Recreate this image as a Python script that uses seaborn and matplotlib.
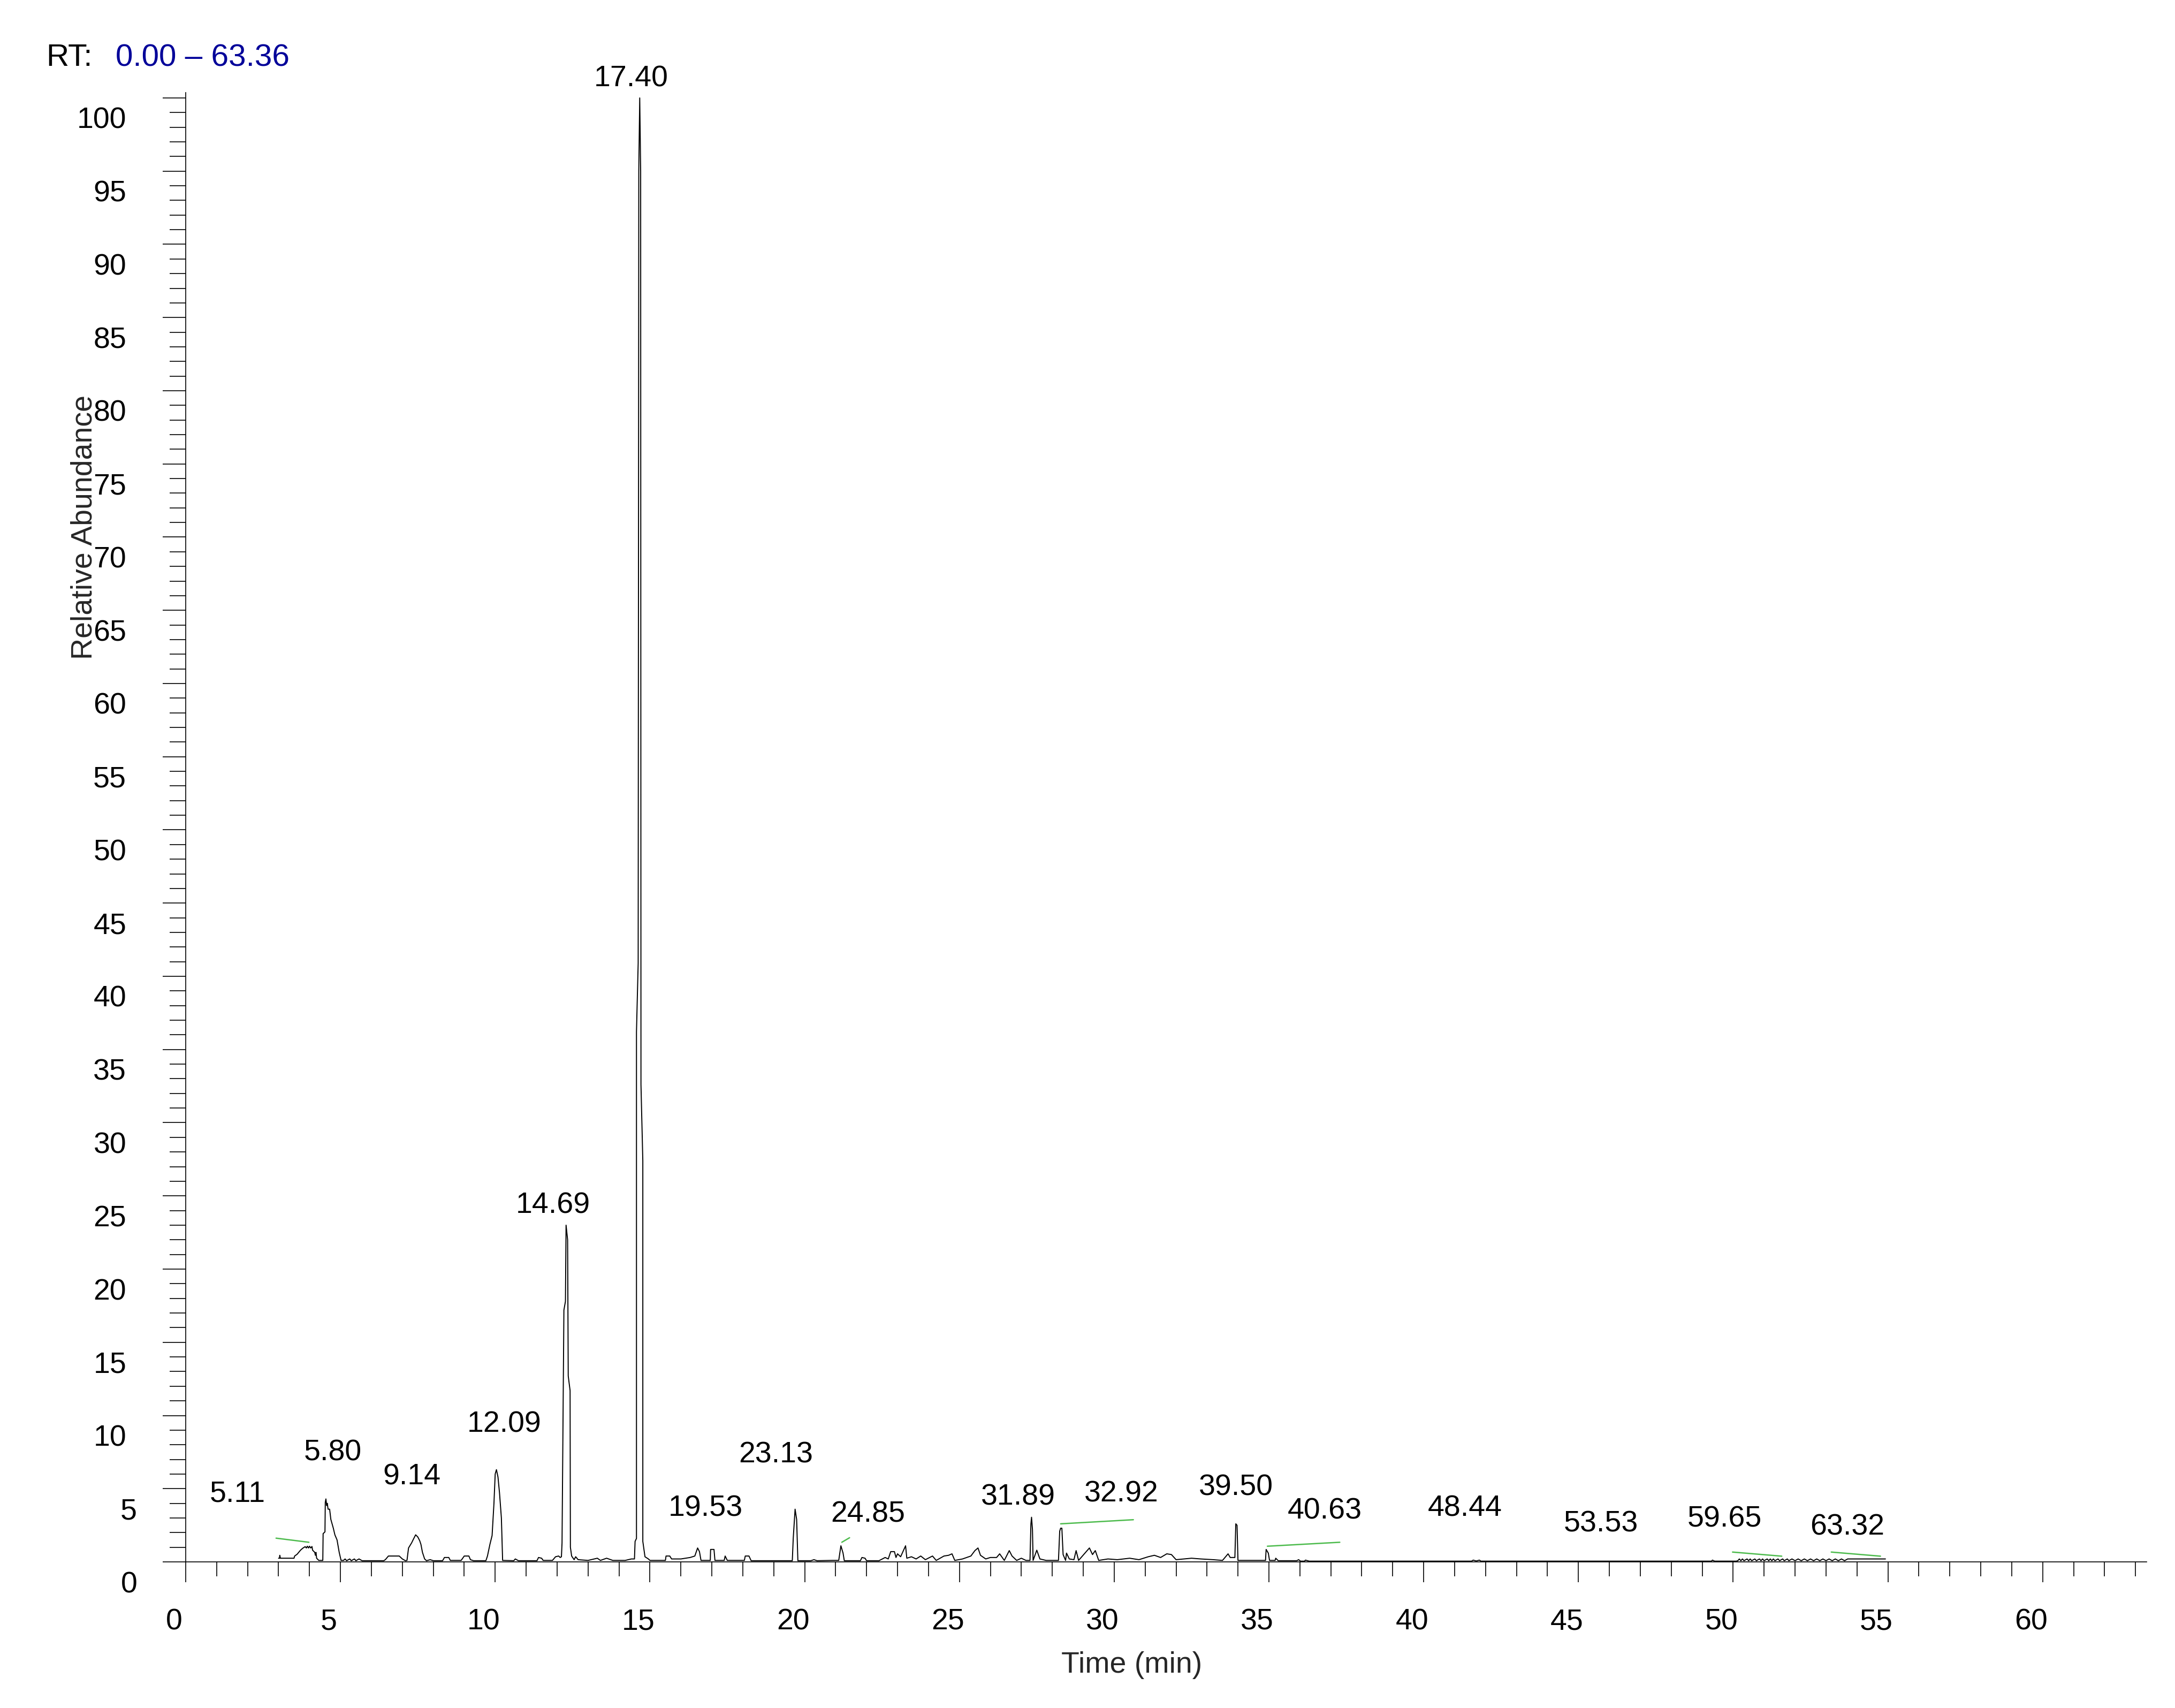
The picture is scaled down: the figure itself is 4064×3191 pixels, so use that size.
import pandas as pd
import seaborn as sns
import matplotlib.pyplot as plt
import matplotlib.transforms as mtransforms
from matplotlib.ticker import MultipleLocator

# ---------------------------------------------------------
# 1. DATA
# ---------------------------------------------------------
# trace: retention time on the plotted axis (min) and relative abundance (%)
time_min = [
    3.00, 3.03, 3.04, 3.06, 3.50, 3.52, 3.60, 3.65, 3.71, 3.78, 3.86, 3.90, 3.93, 3.97,
    4.00, 4.04, 4.08, 4.10, 4.17, 4.19, 4.21, 4.23, 4.30, 4.43, 4.44, 4.50, 4.51, 4.53,
    4.555, 4.575, 4.60, 4.65, 4.69, 4.77, 4.82, 4.89, 4.96, 5.02,
    5.10, 5.15, 5.20, 5.30, 5.35, 5.45, 5.50, 5.60, 5.70, 6.40,
    6.45, 6.55, 6.90, 7.00, 7.10, 7.15, 7.20, 7.30, 7.36, 7.43, 7.50, 7.56, 7.60, 7.65,
    7.72, 7.78, 7.90, 8.00, 8.30, 8.36, 8.50, 8.55, 8.90, 9.00, 9.15, 9.20, 9.30, 9.70,
    9.75, 9.83, 9.90, 9.96, 10.00, 10.04, 10.09, 10.14, 10.20, 10.24, 10.60, 10.65, 10.75,
    11.35, 11.40, 11.50, 11.55, 11.85, 11.95, 12.05, 12.10, 12.14, 12.16, 12.22, 12.27,
    12.29, 12.34, 12.36, 12.42, 12.43, 12.47, 12.55, 12.60, 12.68, 13.00, 13.30, 13.40,
    13.60, 13.80, 14.20, 14.40, 14.50, 14.52, 14.565, 14.565, 14.62, 14.64, 14.67, 14.70,
    14.71, 14.77, 14.77, 14.84, 14.95, 15.00, 15.50, 15.52, 15.64, 15.70, 16.00, 16.30,
    16.45, 16.54, 16.60, 16.65, 16.95, 16.96, 17.07, 17.10, 17.40, 17.43, 17.50, 18.05,
    18.08, 18.20, 18.27, 19.60, 19.63, 19.69, 19.74, 19.78, 20.20, 20.30, 20.40, 20.90,
    21.10, 21.17, 21.24, 21.28, 21.80, 21.85, 21.95, 22.00, 22.40, 22.60, 22.70, 22.78,
    22.90, 22.95, 23.00, 23.10, 23.26, 23.30, 23.45, 23.60, 23.75, 23.90, 24.13, 24.25,
    24.50, 24.65, 24.76, 24.85, 25.10, 25.37, 25.50, 25.60, 25.68, 25.85, 26.00, 26.20,
    26.30, 26.45, 26.61, 26.70, 26.85, 27.00, 27.15, 27.28, 27.31, 27.33, 27.36, 27.38,
    27.50, 27.60, 27.80, 28.20, 28.24, 28.27, 28.31, 28.35, 28.43, 28.46, 28.55, 28.70,
    28.77, 28.85, 29.20, 29.30, 29.39, 29.50, 29.80, 30.10, 30.50, 30.80, 31.10, 31.30,
    31.50, 31.70, 31.85, 32.00, 32.50, 32.80, 33.20, 33.50, 33.68, 33.75, 33.90, 33.93,
    33.97, 34.00, 34.50, 34.89, 34.91, 34.98, 35.02, 35.20, 35.22, 35.30, 35.90, 35.96,
    36.02, 36.15, 36.18, 36.30, 41.55, 41.60, 41.70, 41.80, 41.85, 49.30, 49.33, 49.40,
    50.10, 50.15, 50.20, 50.25, 50.30, 50.35, 50.45, 50.50, 50.55, 50.60, 50.70, 50.75,
    50.85, 50.90, 50.95, 51.00, 51.10, 51.15, 51.20, 51.25, 51.30, 51.35, 51.45, 51.50,
    51.60, 51.65, 51.75, 51.80, 51.90, 52.00, 52.10, 52.20, 52.30, 52.40, 52.50, 52.60,
    52.70, 52.80, 52.90, 53.00, 53.10, 53.20, 53.30, 53.40, 53.50, 53.60, 53.70, 54.92,
]
rel_abund = [
    0.25, 0.25, 0.45, 0.25, 0.25, 0.40, 0.52, 0.65, 0.80, 0.93, 1.04, 0.95, 1.07, 0.95,
    1.07, 0.95, 1.05, 0.80, 0.65, 0.45, 0.65, 0.25, 0.10, 0.10, 1.93, 2.05, 4.06, 4.30,
    3.85, 4.00, 3.60, 3.60, 2.90, 2.30, 1.85, 1.50, 0.65, 0.10,
    0.10, 0.20, 0.08, 0.20, 0.08, 0.20, 0.08, 0.20, 0.08, 0.08,
    0.15, 0.40, 0.40, 0.20, 0.08, 0.10, 0.95, 1.30, 1.56, 1.85, 1.70, 1.45, 1.20, 0.65,
    0.20, 0.08, 0.15, 0.08, 0.08, 0.30, 0.30, 0.10, 0.10, 0.40, 0.40, 0.15, 0.08, 0.08,
    0.40, 1.20, 1.80, 4.00, 6.00, 6.30, 5.80, 4.70, 3.00, 0.10, 0.08, 0.20, 0.08,
    0.08, 0.30, 0.25, 0.10, 0.10, 0.35, 0.40, 0.30, 0.35, 1.30, 17.20, 17.80,
    23.00, 22.00, 12.70, 11.70, 1.00, 0.40, 0.15, 0.35, 0.15, 0.10, 0.25, 0.10,
    0.25, 0.10, 0.10, 0.20, 0.20, 1.40, 1.60, 36.20, 40.90, 95.00, 100.00, 95.00,
    32.60, 27.40, 1.40, 0.35, 0.20, 0.10, 0.10, 0.40, 0.40, 0.20, 0.20, 0.30,
    0.40, 0.95, 0.70, 0.10, 0.10, 0.85, 0.85, 0.10, 0.10, 0.40, 0.10, 0.10,
    0.40, 0.40, 0.08, 0.08, 1.60, 3.60, 2.90, 0.08, 0.08, 0.15, 0.08, 0.10,
    0.10, 1.10, 0.60, 0.08, 0.08, 0.30, 0.25, 0.08, 0.08, 0.30, 0.20, 0.70,
    0.70, 0.30, 0.55, 0.35, 1.10, 0.25, 0.35, 0.20, 0.40, 0.15, 0.40, 0.10,
    0.40, 0.45, 0.55, 0.10, 0.20, 0.40, 0.77, 0.95, 0.45, 0.20, 0.30, 0.30,
    0.55, 0.10, 0.77, 0.40, 0.10, 0.25, 0.10, 0.10, 2.60, 3.05, 2.20, 0.10,
    0.80, 0.20, 0.10, 0.10, 2.10, 2.30, 2.30, 0.50, 0.10, 0.60, 0.20, 0.15,
    0.77, 0.10, 0.95, 0.50, 0.77, 0.10, 0.20, 0.15, 0.25, 0.15, 0.35, 0.45,
    0.30, 0.55, 0.50, 0.15, 0.25, 0.20, 0.15, 0.10, 0.55, 0.30, 0.30, 2.60,
    2.50, 0.10, 0.10, 0.10, 0.85, 0.60, 0.10, 0.10, 0.25, 0.08, 0.08, 0.15,
    0.05, 0.05, 0.12, 0.05, 0.05, 0.12, 0.06, 0.12, 0.05, 0.05, 0.12, 0.05,
    0.05, 0.08, 0.20, 0.08, 0.20, 0.08, 0.20, 0.08, 0.20, 0.08, 0.20, 0.08,
    0.20, 0.08, 0.20, 0.08, 0.20, 0.08, 0.20, 0.08, 0.20, 0.08, 0.20, 0.08,
    0.20, 0.08, 0.20, 0.08, 0.20, 0.08, 0.20, 0.08, 0.20, 0.08, 0.20, 0.08,
    0.20, 0.08, 0.20, 0.08, 0.20, 0.08, 0.20, 0.08, 0.20, 0.08, 0.20, 0.20,
]

# peak labels and where they sit (plot axis units)
peak_labels = ["5.11", "5.80", "9.14", "12.09", "14.69", "17.40", "19.53", "23.13", "24.85",
               "31.89", "32.92", "39.50", "40.63", "48.44", "53.53", "59.65", "63.32"]
label_time = [1.68, 4.75, 7.31, 10.29, 11.86, 14.39, 16.79, 19.07, 22.05,
              26.89, 30.23, 33.94, 36.81, 41.33, 45.72, 49.73, 53.69]
label_abund = [4.13, 6.94, 5.30, 8.85, 23.83, 100.77, 3.14, 6.80, 2.74,
               3.88, 4.13, 4.57, 2.93, 3.11, 2.08, 2.38, 1.83]

# green baseline markers (start / end)
mark_t0 = [2.92, 21.20, 28.27, 34.95, 49.98, 53.17]
mark_y0 = [1.62, 1.34, 2.60, 1.07, 0.67, 0.67]
mark_t1 = [3.98, 21.45, 30.62, 37.29, 51.57, 54.76]
mark_y1 = [1.34, 1.65, 2.88, 1.34, 0.39, 0.39]

rt_range = (0.00, 63.36)
x_ticks = list(range(0, 61, 5))
y_ticks = list(range(0, 101, 5))

# ---------------------------------------------------------
# 2. STYLE
# ---------------------------------------------------------
sns.set_theme(style="ticks")
plt.rcParams['font.family'] = ['Liberation Sans', 'DejaVu Sans']
plt.rcParams['font.size'] = 10
plt.rcParams['text.color'] = 'black'
plt.rcParams['xtick.color'] = 'black'
plt.rcParams['ytick.color'] = 'black'

fig = plt.figure(figsize=(10.16, 7.9775), dpi=400)
ax = fig.add_axes([0.08538, 0.08555, 0.90158, 0.86011])

# ---------------------------------------------------------
# 3. PLOT
# ---------------------------------------------------------
df = pd.DataFrame({"time": time_min, "abund": rel_abund})
sns.lineplot(data=df, x="time", y="abund", sort=False, estimator=None,
             color="black", linewidth=0.35, ax=ax)

for t0, y0, t1, y1 in zip(mark_t0, mark_y0, mark_t1, mark_y1):
    ax.plot([t0, t1], [y0, y1], color="#4DBB4D", linewidth=0.45)

for lab, t, y in zip(peak_labels, label_time, label_abund):
    ax.text(t, y, lab, ha="center", va="baseline", fontsize=10, clip_on=False)

# ---------------------------------------------------------
# 4. AXES
# ---------------------------------------------------------
ax.set_xlim(*rt_range)
ax.set_ylim(0, 100.35)
ax.set_xticks(x_ticks)
ax.set_yticks(y_ticks)
ax.xaxis.set_minor_locator(MultipleLocator(1))
ax.yaxis.set_minor_locator(MultipleLocator(1))

ax.tick_params(axis="x", which="major", length=6.84, width=0.3, pad=8.8, labelsize=10)
ax.tick_params(axis="x", which="minor", length=4.86, width=0.3)
ax.tick_params(axis="y", which="major", length=7.74, width=0.3, pad=8.6, labelsize=10)
ax.tick_params(axis="y", which="minor", length=5.4, width=0.3)

sns.despine(ax=ax)
for side in ["left", "bottom"]:
    ax.spines[side].set_linewidth(0.3)
    ax.spines[side].set_color("black")

ax.set_xlabel("Time (min)", fontsize=10)
ax.xaxis.set_label_coords(0.4823, -0.0608)
ax.set_ylabel("Relative Abundance", fontsize=10)
ax.yaxis.set_label_coords(-0.0446, 0.7043)

# Xcalibur style: labels sit a bit off their ticks
dx = mtransforms.ScaledTranslation(-22 / 400, 0, fig.dpi_scale_trans)
for lab in ax.xaxis.get_majorticklabels():
    lab.set_transform(lab.get_transform() + dx)
for val, lab in zip(y_ticks, ax.yaxis.get_majorticklabels()):
    shift_x = -20 / 400 if val >= 10 else 0
    dy = mtransforms.ScaledTranslation(shift_x, -37 / 400, fig.dpi_scale_trans)
    lab.set_transform(lab.get_transform() + dy)

# header
fig.text(86.7 / 4064, 1 - 123 / 3191, "RT:", ha="left", va="baseline", fontsize=10.5)
fig.text(216 / 4064, 1 - 123 / 3191, "0.00 \u2013 63.36", ha="left", va="baseline",
         fontsize=10.5, color="#000099")

fig.savefig("out.png", dpi=400)
